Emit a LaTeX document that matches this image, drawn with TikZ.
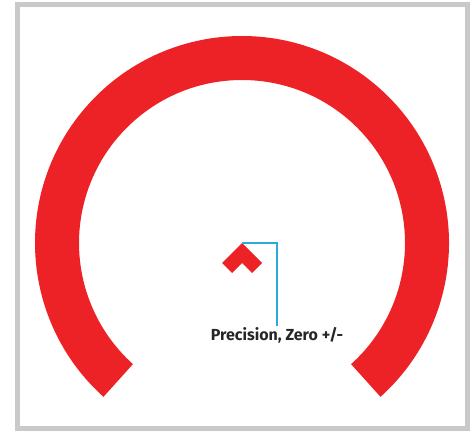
\documentclass[tikz,border=0pt]{standalone}
\usepackage{fontspec}
\setmainfont{Fira Sans}
\definecolor{gaugered}{RGB}{237,34,39}
\definecolor{framegray}{RGB}{200,201,203}
\definecolor{leaderblue}{RGB}{41,171,226}
\begin{document}
\begin{tikzpicture}[x=1pt,y=1pt]

    \useasboundingbox (0,0) rectangle (470,431);

    % rámeček
    \draw[framegray, line width=5pt] (17.5,2.5) rectangle (467.5,426.5);

    % oblouk stupnice
    \fill[gaugered, shift={(242,188)}] (228:207) arc (228:-48:207)
        -- (-48:163) arc (-48:228:163) -- cycle;

    % značka nuly
    \fill[gaugered] (242,188) -- (262,168) -- (252,158) -- (242,168)
        -- (232,158) -- (222,168) -- cycle;
    \coordinate (zero) at (242,188);

    % popisek
    \node[anchor=north, inner sep=1.5pt, font=\bfseries\fontsize{16}{18}\selectfont,
        text=black!85] (label) at (277,105) {Precision, Zero +/-};
    \draw[leaderblue, line width=1.2pt] (zero) -| (label.north);

\end{tikzpicture}
\end{document}
